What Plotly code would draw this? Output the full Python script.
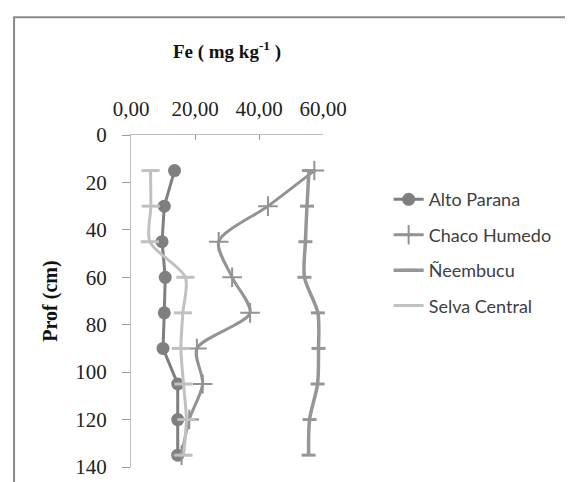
import plotly.graph_objects as go

depth = [15, 30, 45, 60, 75, 90, 105, 120, 135]
alto_parana = [13.6, 10.4, 9.7, 10.7, 10.4, 10.0, 14.6, 14.6, 14.6]
chaco_humedo = [57.3, 42.8, 27.4, 31.6, 37.2, 20.6, 22.4, 18.2, 15.8]
neembucu = [55.6, 55.0, 54.5, 54.2, 58.4, 58.6, 58.3, 55.8, 55.5]
selva_central = [6.1, 6.2, 5.9, 17.0, 16.2, 15.6, 16.4, 17.3, 16.4]

x_tickvals = [0, 20, 40, 60]
x_ticktext = ["0,00", "20,00", "40,00", "60,00"]
y_tickvals = [0, 20, 40, 60, 80, 100, 120, 140]

fig = go.Figure()
fig.add_trace(go.Scatter(
    x=alto_parana, y=depth, name="Alto Parana", mode="lines+markers",
    line=dict(color="#7f7f7f", width=3),
    marker=dict(symbol="circle", size=13, color="#7f7f7f"),
    legendgroup="a", cliponaxis=False))
fig.add_trace(go.Scatter(
    x=chaco_humedo, y=depth, name="Chaco Humedo", mode="lines+markers",
    line=dict(color="#939393", width=3, shape="spline", smoothing=0.8),
    marker=dict(symbol="cross-thin", size=14, line=dict(color="#939393", width=2)),
    legendgroup="b", cliponaxis=False))
fig.add_trace(go.Scatter(
    x=neembucu, y=depth, name="Ñeembucu", mode="lines+markers",
    line=dict(color="#969696", width=3.5, shape="spline", smoothing=0.8),
    marker=dict(symbol="line-ew", size=10, line=dict(color="#969696", width=3)),
    legendgroup="c", cliponaxis=False))
fig.add_trace(go.Scatter(
    x=selva_central, y=depth, name="Selva Central", mode="lines+markers",
    line=dict(color="#c0c0c0", width=3, shape="spline", smoothing=0.8),
    marker=dict(symbol="line-ew", size=13, line=dict(color="#c0c0c0", width=3)),
    legendgroup="d", cliponaxis=False))

fig.update_layout(
    width=573, height=482,
    margin=dict(l=123, r=258, t=127, b=23, autoexpand=False),
    paper_bgcolor="white", plot_bgcolor="white",
    font=dict(family="Liberation Serif", color="#222222"),
    showlegend=True,
    legend=dict(x=1.342, xanchor="left", y=0.861, yanchor="top",
                font=dict(family="Lato", size=18, color="#404040"),
                tracegroupgap=9, bgcolor="rgba(0,0,0,0)"),
    xaxis=dict(side="top", range=[0, 60], tickvals=x_tickvals, ticktext=x_ticktext,
               automargin=False, ticklabelstandoff=10,
               showgrid=False, zeroline=False, showline=True, linecolor="#bdbdbd",
               linewidth=1, ticks="inside", ticklen=5, tickcolor="#9a9a9a",
               tickfont=dict(family="Liberation Serif", size=21, color="#222222"),
               title=dict(text="<b>Fe ( mg kg<sup>-1</sup> )</b>", standoff=32,
                          font=dict(family="Liberation Serif", size=19, color="#111111"))),
    yaxis=dict(range=[140, 0], tickvals=y_tickvals, showgrid=False, zeroline=False,
               automargin=False, ticklabelstandoff=11,
               showline=True, linecolor="#bdbdbd", linewidth=1,
               ticks="outside", ticklen=8, tickcolor="#9a9a9a",
               tickfont=dict(family="Liberation Serif", size=21, color="#222222"),
               title=dict(text="<b>Prof (cm)</b>", standoff=12,
                          font=dict(family="Liberation Serif", size=20, color="#111111"))),
    shapes=[dict(type="rect", xref="paper", yref="paper",
                 x0=-0.609, y0=-1.0, x1=3.0, y1=1.355,
                 line=dict(color="#8a8a8a", width=2), fillcolor="rgba(0,0,0,0)",
                 layer="below")],
)

fig.write_html("out.html")
